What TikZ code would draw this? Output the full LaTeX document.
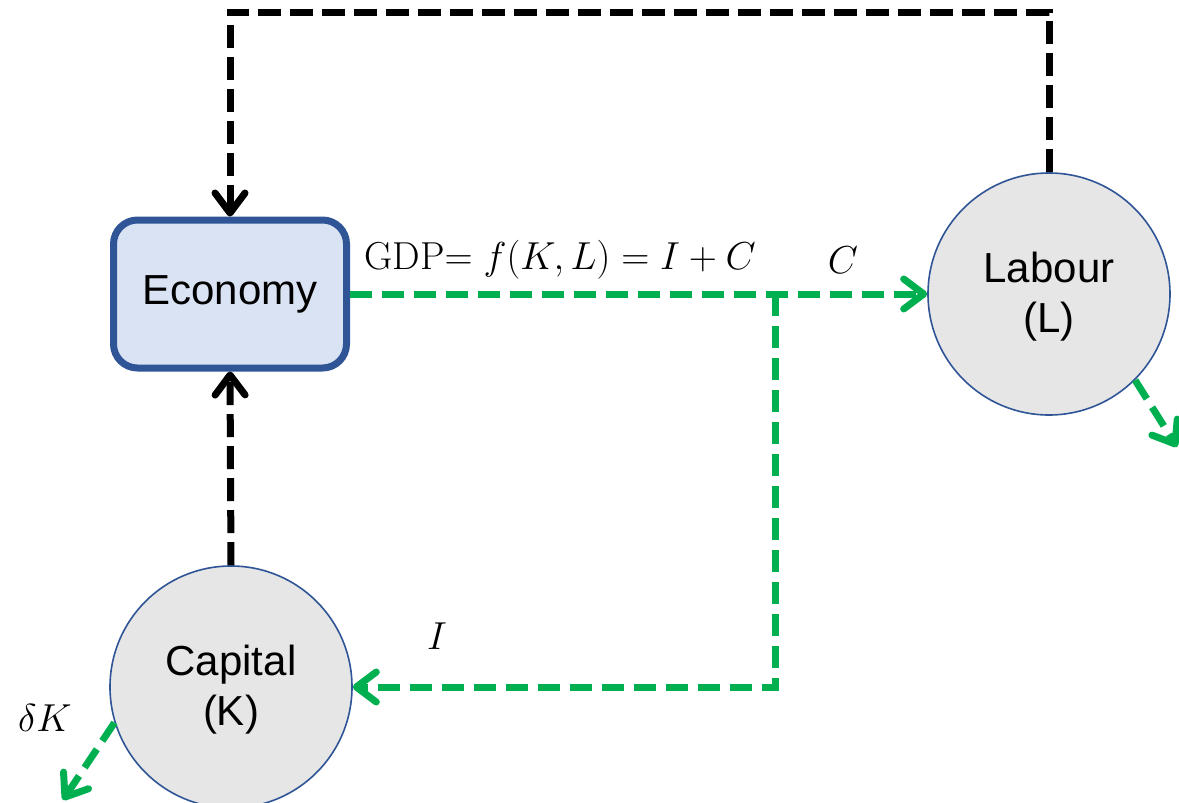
\RequirePackage{fix-cm}
\documentclass[tikz,border=0pt]{standalone}
\usepackage{fontspec}
\newfontfamily\sansf{Liberation Sans}
\usetikzlibrary{arrows.meta}
\definecolor{ebord}{HTML}{2F5597}
\definecolor{efill}{HTML}{DAE3F3}
\definecolor{cfill}{HTML}{E6E6E6}
\definecolor{grn}{HTML}{00B050}
\begin{document}
\begin{tikzpicture}[x=1pt,y=-1pt,
  tiph/.style={-{Straight Barb[length=20pt,width=30pt,round]}},
  blkline/.style={draw=black,line width=7pt,dash pattern=on 23pt off 9pt},
  grnline/.style={draw=grn,line width=7pt,dash pattern=on 22pt off 10pt},
  ecobox/.style={draw=ebord,fill=efill,line width=7pt,rounded corners=24pt,minimum width=233pt,minimum height=148pt,inner sep=0pt,font=\sansf\fontsize{42}{50}\selectfont},
  stockcirc/.style={circle,draw=ebord,fill=cfill,line width=1.6pt,minimum size=242pt,inner sep=0pt,align=center,font=\sansf\fontsize{42}{50}\selectfont},
  lbl/.style={inner sep=0pt,font=\fontsize{39}{46}\selectfont}]
\useasboundingbox (0,0) rectangle (1179,803);
\node[ecobox] (E) at (230,294) {Economy};
\node[stockcirc] (L) at (1049,294) {\strut Labour\\(L)};
\node[stockcirc] (K) at (231,687) {\strut Capital\\(K)};
\coordinate (tr) at (1049,12);
\coordinate (tl) at (230,12);
\coordinate (br) at (775,294);
\coordinate (bc) at (775,687);
\coordinate (lo) at (1177,447);
\coordinate (ko) at (63,800);
\draw[blkline,tiph] (L.north) -- (tr) -- (tl) -- (E.north);
\draw[blkline,tiph] (K.north) -- (E.south);
\draw[grnline,tiph] (E.east) -- (L.west);
\draw[grnline,tiph] (br) -- (bc) -- (K.east);
\draw[grnline,tiph] (L.-45) -- (lo);
\draw[grnline,tiph] (K.197) -- (ko);
\node[lbl] (gdp) at (560,260) {$\mathrm{GDP}{=}\;f(K,L)=I+C$};
\node[lbl] (cl) at (843,260) {$C$};
\node[lbl] (il) at (437,636) {$I$};
\node[lbl] (dk) at (45,718) {$\delta K$};
\end{tikzpicture}
\end{document}
